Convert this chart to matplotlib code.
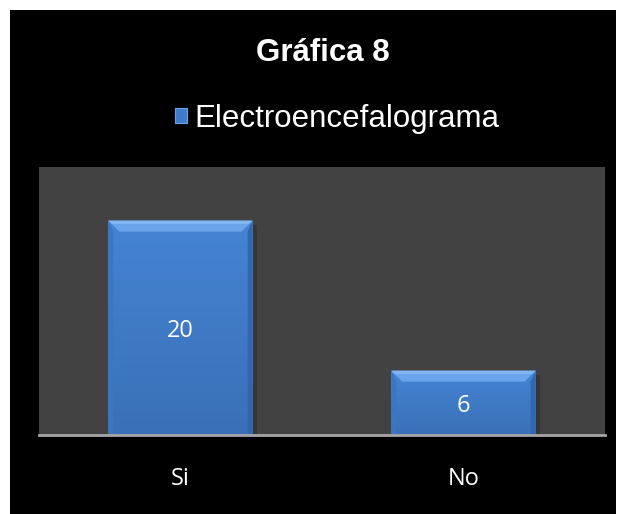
import numpy as np
import matplotlib
matplotlib.use("Agg")
import matplotlib.pyplot as plt
from matplotlib.patches import Rectangle, Polygon
from matplotlib.colors import LinearSegmentedColormap

categories = ["Si", "No"]
values = [20, 6]
series_name = "Electroencefalograma"
title = "Gráfica 8"

fig = plt.figure(figsize=(6.22, 5.14), dpi=100, facecolor="white")
# black chart area inside the thin white border
fig.patches.append(Rectangle((10 / 622, 0), 606 / 622, 504 / 514,
                             transform=fig.transFigure, facecolor="black",
                             edgecolor="none", zorder=-10))

ax = fig.add_axes([39 / 622, 79 / 514, 566 / 622, 268 / 514])
ax.set_facecolor("#424242")
x = np.arange(len(categories))
ax.set_xlim(-0.5, len(categories) - 0.5)
ax.set_ylim(0, 25)

width = 0.51
bars = ax.bar(x, values, width=width, color="#3f7dcb", edgecolor="none", zorder=2)

# pixel -> data sizes for the bevel
fig.canvas.draw()
px_x = (ax.transData.transform((1, 0))[0] - ax.transData.transform((0, 0))[0])
px_y = (ax.transData.transform((0, 1))[1] - ax.transData.transform((0, 0))[1])
dx_top = 11 / px_x
dy_top = 11 / px_y
dx_side = 5 / px_x

grad = LinearSegmentedColormap.from_list("g", ["#3a70b9", "#4584d2"])
for b in bars:
    x0, w, h = b.get_x(), b.get_width(), b.get_height()
    x1 = x0 + w
    # soft shadow
    ax.add_patch(Rectangle((x1, 0), 4 / px_x, h - 4 / px_y, facecolor="#363636",
                           edgecolor="none", zorder=1))
    img = ax.imshow(np.linspace(0, 1, 100).reshape(-1, 1), cmap=grad,
                    extent=(x0, x1, 0, h), origin="lower", aspect="auto", zorder=2.1)
    img.set_clip_path(b)
    # top bevel
    ax.add_patch(Polygon([(x0, h), (x1, h), (x1 - dx_top, h - dy_top), (x0 + dx_top, h - dy_top)],
                         closed=True, facecolor="#6aa5ec", edgecolor="none", zorder=2.3))
    ax.add_patch(Polygon([(x0, h), (x1, h), (x1 - dx_top * 0.3, h - dy_top * 0.3),
                          (x0 + dx_top * 0.3, h - dy_top * 0.3)],
                         closed=True, facecolor="#80b6f4", edgecolor="none", zorder=2.4))
    # side bevels
    ax.add_patch(Polygon([(x0, 0), (x0, h), (x0 + dx_side, h - dy_top), (x0 + dx_side, 0)],
                         closed=True, facecolor="#3b76c2", edgecolor="none", zorder=2.2))
    ax.add_patch(Polygon([(x1, 0), (x1, h), (x1 - dx_side, h - dy_top), (x1 - dx_side, 0)],
                         closed=True, facecolor="#3266ad", edgecolor="none", zorder=2.2))
    ax.text(b.get_x() + w / 2, h / 2 - 3 / px_y, str(int(h)), ha="center", va="center",
            color="white", fontsize=17, family="Open Sans", zorder=3)

for s in ["left", "right", "top"]:
    ax.spines[s].set_visible(False)
ax.spines["bottom"].set_color("#a6a6a6")
ax.spines["bottom"].set_linewidth(2)
ax.spines["bottom"].set_zorder(4)
ax.set_yticks([])
ax.set_xticks(x)
ax.set_xticklabels(categories, color="white", fontsize=17, family="Open Sans")
ax.tick_params(axis="x", length=0, pad=23)

fig.text(0.5185, 1 - 61 / 514, title, ha="center", va="baseline", color="white",
         fontsize=22.5, fontweight="bold", family="Liberation Sans")

handle = Rectangle((0, 0), 1, 1, facecolor="#3f7dcb", edgecolor="#6aa5ec", linewidth=0.8)
leg = fig.legend([handle], [series_name], loc="center", bbox_to_anchor=(0.5426, 1 - 119 / 514),
                 frameon=False, handlelength=0.375, handleheight=0.375, handletextpad=0.25,
                 borderpad=0, prop={"family": "Liberation Sans", "size": 22.5})
for t in leg.get_texts():
    t.set_color("white")

fig.savefig("out.png", dpi=100, facecolor=fig.get_facecolor())
